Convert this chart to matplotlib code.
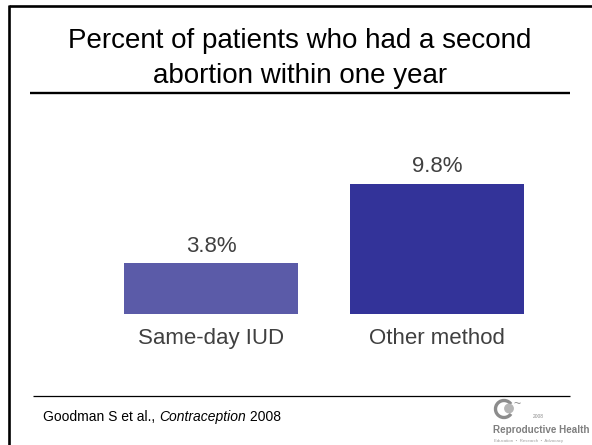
import matplotlib
matplotlib.use("Agg")
import matplotlib.pyplot as plt
from matplotlib.patches import Arc, Circle

plt.rcParams['font.family'] = ['Liberation Sans', 'DejaVu Sans']

# data
categories = ['Same-day IUD', 'Other method']
values = [3.8, 9.8]
value_labels = ['3.8%', '9.8%']
bar_colors = ['#5b5ba8', '#333399']

title_lines = ['Percent of patients who had a second', 'abortion within one year']

W, H = 592, 445
fig = plt.figure(figsize=(W / 100, H / 100), dpi=100)

# overlay in pixel coords for frame, rules, footer, logo
deco = fig.add_axes([0, 0, 1, 1])
deco.set_xlim(0, W)
deco.set_ylim(H, 0)
deco.axis('off')

# slide frame (top + left only visible)
deco.plot([8.5, W], [6, 6], color='black', lw=1.9, solid_capstyle='butt')
deco.plot([8.5, 8.5], [5, H], color='black', lw=1.9, solid_capstyle='butt')

# title
deco.text(300, 48, title_lines[0], ha='center', va='baseline', fontsize=20, color='black')
deco.text(300, 83, title_lines[1], ha='center', va='baseline', fontsize=20, color='black')
deco.plot([30, 570], [93, 93], color='black', lw=1.7, solid_capstyle='butt')

# footer
deco.plot([33, 570], [396, 396], color='black', lw=0.9, solid_capstyle='butt')
t1 = deco.text(43, 421, 'Goodman S et al., ', va='baseline', fontsize=10)
t2 = deco.annotate('Contraception', xy=(1, 0), xycoords=t1, va='bottom',
                   fontsize=10, style='italic')
deco.annotate(' 2008', xy=(1, 0), xycoords=t2, va='bottom', fontsize=10)

# logo (rough)
deco.add_patch(Arc((504, 409), 17, 17, theta1=35, theta2=325, color='#8c8c8c', lw=2.4))
deco.add_patch(Circle((509, 408.5), 4.2, color='#b5b5b5'))
deco.text(513, 404, '~', fontsize=9, color='#8c8c8c', va='center')
deco.text(533, 418, '2008', fontsize=3.5, color='#8c8c8c', va='baseline')
deco.text(493, 433, 'Reproductive Health', fontsize=7.1, fontweight='bold',
          color='#7f7f7f', va='baseline')
deco.text(494, 442, 'Education  \u2022  Research  \u2022  Advocacy', fontsize=3.2,
          color='#a0a0a0', va='baseline')

# bar chart
ax = fig.add_axes([98 / W, (H - 313.5) / H, 452 / W, 132 / H])
ax.set_xlim(-0.5, 1.5)
ax.set_ylim(0, 10)
ax.axis('off')

xpos = range(len(categories))
ax.bar(xpos, values, width=0.77, color=bar_colors)

for x, v, lab, cat in zip(xpos, values, value_labels, categories):
    ax.annotate(lab, xy=(x, v), xytext=(0, 8.4), textcoords='offset points',
                ha='center', va='baseline', fontsize=16, color='#404040')
    ax.annotate(cat, xy=(x, 0), xytext=(0, -22.1), textcoords='offset points',
                ha='center', va='baseline', fontsize=16, color='#404040')

fig.savefig('out.png', dpi=100)
